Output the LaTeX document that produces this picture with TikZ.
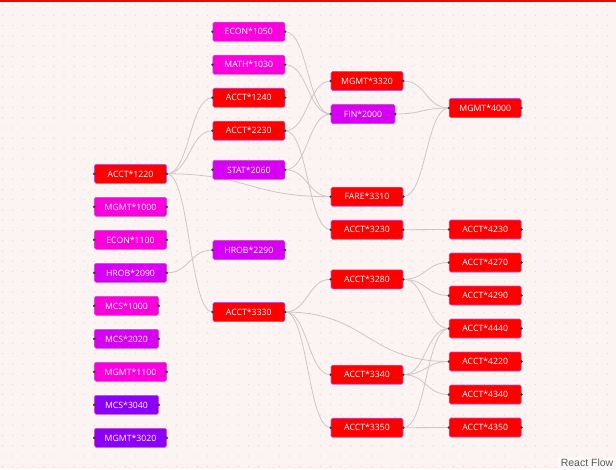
\documentclass[tikz,border=0pt]{standalone}
\usepackage{fontspec}
\setmainfont{Open Sans}
\newfontfamily\attrfont{Liberation Sans}
\usetikzlibrary{positioning,calc,backgrounds}

\definecolor{flowred}{HTML}{FF0000}
\definecolor{flowpink}{HTML}{F900DC}
\definecolor{flowpurple}{HTML}{D600F5}
\definecolor{flowviolet}{HTML}{8A00FA}
\definecolor{flowborder}{HTML}{D24FC8}
\definecolor{flowbg}{HTML}{FCF3F3}
\definecolor{flowdot}{HTML}{E0D6D6}
\definecolor{flowedge}{HTML}{CEC6C6}
\definecolor{flowhandle}{HTML}{3C3838}

\begin{document}
\begin{tikzpicture}[x=1pt, y=-1pt, node distance={33pt},
    main/.style = {draw=flowborder, line width=0.6pt, rounded corners=1.5pt, text=white, font=\fontsize{8.7}{10}\selectfont, minimum width=72pt, minimum height=19pt, inner sep=0pt},
    narrow/.style = {minimum width=64pt},
    rednode/.style = {fill=flowred},
    pinknode/.style = {fill=flowpink},
    purplenode/.style = {fill=flowpurple},
    violetnode/.style = {fill=flowviolet},
    handle/.style = {fill=flowhandle},
    link/.style = {draw=flowedge, line width=0.8pt, to path={let \p1=(\tikztostart), \p2=(\tikztotarget), \n1={0.5*(\x2-\x1)} in (\tikztostart) .. controls +(\n1,0) and +(-\n1,0) .. (\tikztotarget)}}]
        \useasboundingbox (0,0) rectangle (616,469);

        % first column
        \node[main, rednode] (1) at (130.5,173.8) {ACCT*1220};
        \node[main, pinknode] (2) [below of=1] {MGMT*1000};
        \node[main, pinknode] (3) [below of=2] {ECON*1100};
        \node[main, purplenode] (4) [below of=3] {HROB*2090};
        \node[main, narrow, pinknode] (5) [below of=4, xshift=-4pt] {MCS*1000};
        \node[main, narrow, purplenode] (6) [below of=5] {MCS*2020};
        \node[main, pinknode] (7) [below of=6, xshift=4pt] {MGMT*1100};
        \node[main, narrow, violetnode] (8) [below of=7, xshift=-4pt] {MCS*3040};
        \node[main, violetnode] (9) [below of=8, xshift=4pt] {MGMT*3020};

        % second column
        \node[main, pinknode] (10) at (248.8,31.7) {ECON*1050};
        \node[main, pinknode] (11) [below of=10] {MATH*1030};
        \node[main, rednode] (12) [below of=11] {ACCT*1240};
        \node[main, rednode] (13) [below of=12] {ACCT*2230};
        \node[main, purplenode] (14) at (248.8,169.8) {STAT*2060};
        \node[main, purplenode] (15) at (248.8,250) {HROB*2290};
        \node[main, rednode] (16) at (248.8,312) {ACCT*3330};

        % third column
        \node[main, rednode] (17) at (367,81) {MGMT*3320};
        \node[main, narrow, purplenode] (18) [below of=17, xshift=-4pt] {FIN*2000};
        \node[main, rednode] (19) at (367,196.7) {FARE*3310};
        \node[main, rednode] (20) [below of=19] {ACCT*3230};
        \node[main, rednode] (21) at (367,279.3) {ACCT*3280};
        \node[main, rednode] (22) at (367,374.7) {ACCT*3340};
        \node[main, rednode] (23) at (367,427.7) {ACCT*3350};

        % fourth column
        \node[main, rednode] (24) at (485.2,108) {MGMT*4000};
        \node[main, rednode] (25) at (485.2,229.5) {ACCT*4230};
        \node[main, rednode] (26) [below of=25] {ACCT*4270};
        \node[main, rednode] (27) [below of=26] {ACCT*4290};
        \node[main, rednode] (28) [below of=27] {ACCT*4440};
        \node[main, rednode] (29) [below of=28] {ACCT*4220};
        \node[main, rednode] (30) [below of=29] {ACCT*4340};
        \node[main, rednode] (31) [below of=30] {ACCT*4350};

        \foreach \n in {1,...,31} {
            \fill[handle] (\n.west) circle (1.4pt) (\n.east) circle (1.4pt);
        }

        \fill[flowred] (0,0) rectangle (616,1.5);
        \node[fill=white, fill opacity=0.5, text opacity=1, text=black!65, font=\attrfont\fontsize{10.5}{12}\selectfont, inner xsep=2.5pt, inner ysep=2pt, anchor=south east] (rf) at (616,469) {React Flow};

        \begin{pgfonlayer}{background}
            \fill[flowbg] (0,0) rectangle (616,469);
            \foreach \i in {0,...,60} {
                \foreach \j in {0,...,45} {
                    \fill[flowdot] (2.5+10.25*\i, 5+10.25*\j) circle (0.55pt);
                }
            }
            \draw[link] (1.east) to (12.west);
            \draw[link] (1.east) to (13.west);
            \draw[link] (1.east) to (19.west);
            \draw[link] (1.east) to (16.west);
            \draw[link] (4.east) to (15.west);
            \draw[link] (10.east) to (18.west);
            \draw[link] (11.east) to (18.west);
            \draw[link] (13.east) to (17.west);
            \draw[link] (13.east) to (20.west);
            \draw[link] (14.east) to (18.west);
            \draw[link] (14.east) to (19.west);
            \draw[link] (17.east) to (24.west);
            \draw[link] (18.east) to (24.west);
            \draw[link] (19.east) to (24.west);
            \draw[link] (20.east) to (25.west);
            \draw[link] (16.east) to (21.west);
            \draw[link] (16.east) to (22.west);
            \draw[link] (16.east) to (23.west);
            \draw[link] (16.east) to (29.west);
            \draw[link] (21.east) to (26.west);
            \draw[link] (21.east) to (27.west);
            \draw[link] (21.east) to (28.west);
            \draw[link] (22.east) to (28.west);
            \draw[link] (22.east) to (29.west);
            \draw[link] (22.east) to (30.west);
            \draw[link] (23.east) to (28.west);
            \draw[link] (23.east) to (31.west);
        \end{pgfonlayer}
    \end{tikzpicture}
\end{document}
